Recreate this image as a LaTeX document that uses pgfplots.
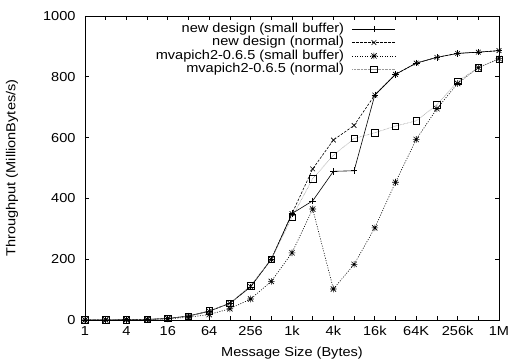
\documentclass[border=0pt]{standalone}
\usepackage{fontspec}
\setmainfont{Liberation Sans}[FakeStretch=1.12]
\usepackage{pgfplots}
\pgfplotsset{compat=1.18}
\pgfdeclareplotmark{gpstar}{%
  \pgfpathmoveto{\pgfqpoint{-\pgfplotmarksize}{0pt}}\pgfpathlineto{\pgfqpoint{\pgfplotmarksize}{0pt}}%
  \pgfpathmoveto{\pgfqpoint{0pt}{-\pgfplotmarksize}}\pgfpathlineto{\pgfqpoint{0pt}{\pgfplotmarksize}}%
  \pgfpathmoveto{\pgfqpoint{-0.8\pgfplotmarksize}{-0.8\pgfplotmarksize}}\pgfpathlineto{\pgfqpoint{0.8\pgfplotmarksize}{0.8\pgfplotmarksize}}%
  \pgfpathmoveto{\pgfqpoint{-0.8\pgfplotmarksize}{0.8\pgfplotmarksize}}\pgfpathlineto{\pgfqpoint{0.8\pgfplotmarksize}{-0.8\pgfplotmarksize}}%
  \pgfusepathqstroke}
\begin{document}
\fontsize{13bp}{15bp}\selectfont
\begin{tikzpicture}
\useasboundingbox (-85bp,-42bp) rectangle (426bp,320bp);
\begin{axis}[
  scale only axis, width=414bp, height=304bp,
  xmode=log, log basis x=2,
  xmin=1, xmax=1048576, ymin=0, ymax=1000,
  xtick={1,4,16,64,256,1024,4096,16384,65536,262144,1048576},
  xticklabels={1,4,16,64,256,1k,4k,16k,64K,256k,1M},
  extra x ticks={2,8,32,128,512,2048,8192,32768,131072,524288},
  extra x tick labels={},
  minor tick num=0,
  ytick={0,200,400,600,800,1000},
  tick align=inside,
  major tick length=4bp,
  every tick/.style={black, line width=0.7bp},
  axis line style={line width=0.8bp},
  yticklabel style={/pgf/number format/assume math mode=true, /pgf/number format/1000 sep={}, xshift=-5bp},
  xticklabel style={yshift=-2bp},
  xlabel={Message Size (Bytes)},
  ylabel={Throughput (MillionBytes/s)},
  xlabel style={at={(axis description cs:0.5,0)}, anchor=center, yshift=-33bp},
  ylabel style={at={(axis description cs:0,0.5)}, anchor=center, yshift=73bp},
  legend style={at={(axis description cs:0.751,0.978)}, anchor=north east, draw=none, fill=none,
    inner sep=0pt, legend cell align=right, row sep=0.9bp, column sep=8bp,
    nodes={inner sep=0pt, text height=9.5bp, text depth=3bp}},
  legend plot pos=right,
  legend image code/.code={\draw[mark repeat=2,mark phase=2,#1] plot coordinates {(0bp,0bp) (21.5bp,0bp) (43bp,0bp)};},
]
\addplot[black, line width=0.6bp, solid, mark=+, mark size=3.3bp, mark options={solid}] coordinates {
(1,0) (2,0.3) (4,1) (8,2) (16,5) (32,13) (64,29) (128,55) (256,109) (512,200) (1024,350) (2048,392) (4096,489) (8192,491) (16384,740) (32768,808) (65536,845) (131072,864) (262144,877) (524288,881) (1048576,886)};
\addlegendentry{new design (small buffer)}
\addplot[black, line width=0.6bp, dash pattern=on 2.5bp off 1.5bp, mark=x, mark size=3.3bp, mark options={solid}] coordinates {
(1,0) (2,0.3) (4,1) (8,2) (16,5) (32,13) (64,29) (128,55) (256,110) (512,200) (1024,350) (2048,497) (4096,592) (8192,640) (16384,740) (32768,808) (65536,845) (131072,864) (262144,877) (524288,881) (1048576,886)};
\addlegendentry{new design (normal)}
\addplot[black, line width=0.6bp, dash pattern=on 1bp off 1.5bp, mark=gpstar, mark size=3.3bp, mark options={solid}] coordinates {
(1,0) (2,0.2) (4,0.8) (8,1.5) (16,4) (32,9) (64,18) (128,37) (256,69) (512,127) (1024,221) (2048,365) (4096,102) (8192,183) (16384,303) (32768,453) (65536,594) (131072,695) (262144,778) (524288,830) (1048576,860)};
\addlegendentry{mvapich2-0.6.5 (small buffer)}
\addplot[gray!80, line width=0.6bp, dash pattern=on 0.6bp off 0.8bp, mark=square, mark size=3.2bp, mark options={solid, black}] coordinates {
(1,0) (2,0.3) (4,1) (8,2) (16,5) (32,13) (64,30) (128,55) (256,113) (512,200) (1024,338) (2048,465) (4096,542) (8192,597) (16384,616) (32768,638) (65536,655) (131072,708) (262144,785) (524288,830) (1048576,858)};
\addlegendentry{mvapich2-0.6.5 (normal)}
\end{axis}
\end{tikzpicture}
\end{document}
